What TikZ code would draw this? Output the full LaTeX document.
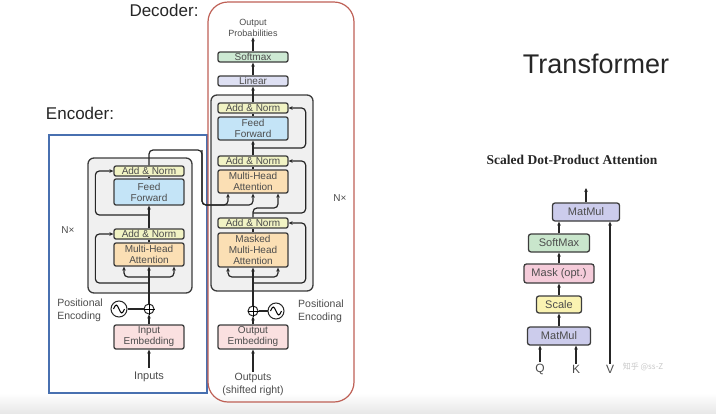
\documentclass[tikz,border=0pt]{standalone}
\usepackage{fontspec}
\setmainfont{Liberation Sans}
\newfontfamily\serifttl{Liberation Serif}
\newfontfamily\cjk{Noto Sans CJK SC}
\definecolor{tfgray}{RGB}{60,60,60}
\definecolor{tfnorm}{RGB}{241,243,196}
\definecolor{tfff}{RGB}{196,228,247}
\definecolor{tfmha}{RGB}{251,223,180}
\definecolor{tfemb}{RGB}{250,224,224}
\definecolor{tfsoft}{RGB}{205,233,211}
\definecolor{tflin}{RGB}{222,224,243}
\definecolor{tfstack}{RGB}{240,240,240}
\definecolor{tfblue}{RGB}{72,112,176}
\definecolor{tfred}{RGB}{190,96,86}
\definecolor{sdmat}{RGB}{204,204,236}
\definecolor{sdsoft}{RGB}{201,230,204}
\definecolor{sdmask}{RGB}{245,204,218}
\definecolor{sdscale}{RGB}{250,243,178}
\usetikzlibrary{arrows.meta,positioning,calc}

\begin{document}
\begin{tikzpicture}[
  x=1pt, y=-1pt,
  blk/.style={rectangle, rounded corners=2pt, draw=tfgray, line width=1.3pt,
              inner sep=0pt, minimum width=70pt,
              font=\fontsize{10}{11}\selectfont, align=center, text=black!70},
  norm/.style={blk, fill=tfnorm, minimum height=10pt},
  ffbox/.style={blk, fill=tfff},
  attbox/.style={blk, fill=tfmha},
  embbox/.style={blk, fill=tfemb, minimum height=24pt},
  sdblk/.style={rectangle, rounded corners=2.5pt, draw=tfgray, line width=1.3pt,
                inner sep=0pt, minimum height=18pt,
                font=\fontsize{11}{13}\selectfont, text=black!70},
  stack/.style={rectangle, rounded corners=6pt, draw=tfgray, line width=1.3pt,
                fill=tfstack, inner sep=0pt},
  addc/.style={circle, draw=black!85, line width=1pt, minimum size=10pt, inner sep=0pt},
  sinec/.style={circle, draw=black!85, line width=1pt, minimum size=16pt, inner sep=0pt},
  lbl/.style={font=\fontsize{10.5}{13}\selectfont, text=black!70, align=center, inner sep=1pt},
  arr/.style={-{Stealth[length=4pt,width=3.6pt]}, line width=1.2pt, draw=black!85},
  wire/.style={line width=1.2pt, draw=black!85}
]
\useasboundingbox (0,0) rectangle (716,413);
\shade[top color=white, bottom color=black!9] (0,393) rectangle (716,413);

% Frames
\draw[tfblue, line width=1.3pt] (49,135) rectangle (207,393);
\draw[tfred, line width=1.2pt, rounded corners=20pt] (208,2) rectangle (354,402);
\node[font=\fontsize{17}{20}\selectfont, text=black!85] (enctitle) at (80,113) {Encoder:};
\node[font=\fontsize{17}{20}\selectfont, text=black!85] (dectitle) at (164,10) {Decoder:};
\node[font=\fontsize{27}{30}\selectfont, text=black!85] (title) at (596,64) {Transformer};

% Encoder
\node[stack, minimum width=104pt, minimum height=135pt] (enc_stack) at (140,225.5) {};
\node[norm] (enc_an2) at (149,171) {Add \& Norm};
\node[ffbox, minimum height=26pt] (enc_ff) at (149,192) {Feed\\Forward};
\node[norm] (enc_an1) at (149,234) {Add \& Norm};
\node[attbox, minimum height=23pt] (enc_mha) at (149,254.5) {Multi-Head\\Attention};
\node[font=\fontsize{10}{12}\selectfont, text=black!70] (enc_nx) at (68,230) {N×};
\node[addc] (enc_add) at (149,309) {};
\node[sinec] (enc_pe) at (119,309) {};
\node[lbl, align=left, anchor=east] (enc_pelbl) at (104,310) {Positional\\Encoding};
\node[embbox] (enc_emb) at (149,337) {Input\\Embedding};
\node[lbl, font=\fontsize{11}{13}\selectfont, inner ysep=4pt] (inputs) at (149,377) {Inputs};

\coordinate (enc_br) at (149,277);
\coordinate (enc_r1) at (149,283);
\coordinate (enc_r2) at (149,215);
\coordinate (enc_out) at (202,150);
\coordinate (enc_turn) at (202,205);

% Decoder
\node[stack, minimum width=102pt, minimum height=196pt] (dec_stack) at (262,193) {};
\node[lbl, font=\fontsize{9}{11}\selectfont] (outprob) at (253,27.5) {Output\\Probabilities};
\node[blk, fill=tfsoft, minimum height=10pt] (dec_sm) at (253,57) {Softmax};
\node[blk, fill=tflin, minimum height=10pt] (dec_lin) at (253,81) {Linear};
\node[norm] (dec_an3) at (253,108) {Add \& Norm};
\node[ffbox, minimum height=23pt] (dec_ff) at (253,128.5) {Feed\\Forward};
\node[norm] (dec_an2) at (253,161) {Add \& Norm};
\node[attbox, minimum height=23pt] (dec_mha) at (253,181.5) {Multi-Head\\Attention};
\node[norm] (dec_an1) at (253,223) {Add \& Norm};
\node[attbox, minimum height=34pt] (dec_mmha) at (253,250) {Masked\\Multi-Head\\Attention};
\node[font=\fontsize{10}{12}\selectfont, text=black!70] (dec_nx) at (340,198) {N×};
\node[addc] (dec_add) at (253,311) {};
\node[sinec] (dec_pe) at (276,311) {};
\node[lbl, align=left, anchor=west] (dec_pelbl) at (297,311) {Positional\\Encoding};
\node[embbox] (dec_emb) at (253,337) {Output\\Embedding};
\node[lbl] (outputs) at (253,384.5) {Outputs\\(shifted right)};

\coordinate (dec_br) at (253,277);
\coordinate (dec_r1) at (253,283);
\coordinate (dec_r2) at (253,213);
\coordinate (dec_q) at (253,208);
\coordinate (dec_r3) at (253,148);

% Sine waves and plus signs
\foreach \pe in {enc_pe,dec_pe}
  \draw[line width=1pt] ([xshift=-5.5pt]\pe.center) sin ++(2.75,-4) cos ++(2.75,4)
    sin ++(2.75,4) cos ++(2.75,-4);
\foreach \ad in {enc_add,dec_add}
  \draw[line width=1pt] (\ad.west) -- (\ad.east) (\ad.north) -- (\ad.south);

% Encoder arrows
\draw[arr] (inputs) -- (enc_emb);
\draw[arr] (enc_emb) -- (enc_add);
\draw[wire] (enc_pe) -- (enc_add);
\draw[arr] (enc_add) -- (enc_mha);
\draw[arr, rounded corners=4pt] (enc_br) -| ([xshift=-25pt]enc_mha.south);
\draw[arr, rounded corners=4pt] (enc_br) -| ([xshift=25pt]enc_mha.south);
\draw[arr, rounded corners=4pt] (enc_r1) -| ([xshift=-18pt]enc_an1.west) -- (enc_an1.west);
\draw[wire] (enc_mha) -- (enc_an1);
\draw[arr] (enc_an1) -- (enc_ff);
\draw[arr, rounded corners=4pt] (enc_r2) -| ([xshift=-18pt]enc_an2.west) -- (enc_an2.west);
\draw[wire] (enc_ff) -- (enc_an2);
\draw[arr, rounded corners=4pt] (enc_an2.north) |- (enc_out) -- (enc_turn) -| (dec_mha.south);
\draw[arr, rounded corners=4pt] (enc_out) -- (enc_turn) -| ([xshift=-25pt]dec_mha.south);

% Decoder arrows
\draw[arr] (outputs) -- (dec_emb);
\draw[arr] (dec_emb) -- (dec_add);
\draw[wire] (dec_pe) -- (dec_add);
\draw[arr] (dec_add) -- (dec_mmha);
\draw[arr, rounded corners=4pt] (dec_br) -| ([xshift=-25pt]dec_mmha.south);
\draw[arr, rounded corners=4pt] (dec_br) -| ([xshift=25pt]dec_mmha.south);
\draw[arr, rounded corners=4pt] (dec_r1) -| ([xshift=17pt]dec_an1.east) -- (dec_an1.east);
\draw[wire] (dec_mmha) -- (dec_an1);
\draw[arr, rounded corners=4pt] (dec_an1.north) -- (dec_q) -| ([xshift=25pt]dec_mha.south);
\draw[arr, rounded corners=4pt] (dec_r2) -| ([xshift=17pt]dec_an2.east) -- (dec_an2.east);
\draw[wire] (dec_mha) -- (dec_an2);
\draw[arr] (dec_an2) -- (dec_ff);
\draw[arr, rounded corners=4pt] (dec_r3) -| ([xshift=17pt]dec_an3.east) -- (dec_an3.east);
\draw[wire] (dec_ff) -- (dec_an3);
\draw[arr] (dec_an3) -- (dec_lin);
\draw[arr] (dec_lin) -- (dec_sm);
\draw[arr] (dec_sm) -- (outprob);

% Scaled Dot-Product Attention
\node[font=\serifttl\bfseries\fontsize{13.5}{16}\selectfont, text=black!85] (sdtitle) at (572,160)
  {Scaled Dot-Product Attention};
\node[sdblk, fill=sdmat, minimum width=67pt] (sd_mm2) at (586,212) {MatMul};
\node[sdblk, fill=sdsoft, minimum width=61pt] (sd_sm) at (559,243) {SoftMax};
\node[sdblk, fill=sdmask, minimum width=70pt, minimum height=19pt] (sd_mask) at (559,273.5) {Mask (opt.)};
\node[sdblk, fill=sdscale, minimum width=45pt, minimum height=17pt] (sd_scale) at (559,304.5) {Scale};
\node[sdblk, fill=sdmat, minimum width=63pt] (sd_mm1) at (559,336) {MatMul};
\node[font=\fontsize{12}{14}\selectfont, text=black!70, inner sep=1pt] (q) at (540,369) {Q};
\node[font=\fontsize{12}{14}\selectfont, text=black!70, inner sep=1pt] (k) at (576,369) {K};
\node[font=\fontsize{12}{14}\selectfont, text=black!70, inner sep=1pt] (v) at (610,369) {V};
\node[font=\cjk\fontsize{8}{10}\selectfont, text=black!22] (mark) at (643,367) {知乎 @ss-Z};
\coordinate (sd_out) at (586,188);

\draw[arr] (q) -- (q |- sd_mm1.south);
\draw[arr] (k) -- (k |- sd_mm1.south);
\draw[arr] (v) -- (v |- sd_mm2.south);
\draw[arr] (sd_mm1) -- (sd_scale);
\draw[arr] (sd_scale) -- (sd_mask);
\draw[arr] (sd_mask) -- (sd_sm);
\draw[arr] (sd_sm.north) -- (sd_sm.north |- sd_mm2.south);
\draw[arr] (sd_mm2.north) -- (sd_out);
\end{tikzpicture}
\end{document}
